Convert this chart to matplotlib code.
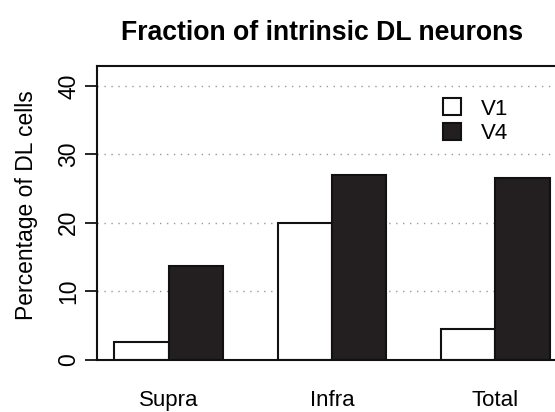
import matplotlib.pyplot as plt

# Percent of DL cells that are intrinsic, per layer group
groups = ["Supra", "Infra", "Total"]
v1_pct = [2.5, 20.0, 4.4]
v4_pct = [13.6, 27.0, 26.6]
series_names = ["V1", "V4"]
yticks = [0, 10, 20, 30, 40]

plt.rcParams["font.family"] = ["Liberation Sans", "DejaVu Sans"]

fig = plt.figure(figsize=(5.55, 4.12), dpi=100)
ax = fig.add_axes([0.1748, 0.1274, 0.8468, 0.7124])

# barplot-style layout: one unit of space before each pair of bars
v1_x = [1.5 + 3 * i for i in range(len(groups))]
v4_x = [2.5 + 3 * i for i in range(len(groups))]
centers = [2.0 + 3 * i for i in range(len(groups))]

for t in yticks[1:]:
    ax.axhline(t, color="#999999", lw=1.0, ls=(0, (1, 4)), zorder=0)

ax.bar(v1_x, v1_pct, width=1.0, color="white", edgecolor="#111111",
       lw=1.5, zorder=2, label=series_names[0])
ax.bar(v4_x, v4_pct, width=1.0, color="#231f20", edgecolor="#111111",
       lw=1.5, zorder=2, label=series_names[1])

ax.set_xlim(0.68, 9.32)
ax.set_ylim(0, 42.9)

ax.set_yticks(yticks)
ax.set_yticklabels([str(t) for t in yticks], rotation=90, va="center")
ax.tick_params(axis="y", length=9, width=1.2, pad=3, labelsize=16.5)
ax.set_xticks(centers)
ax.set_xticklabels(groups)
ax.tick_params(axis="x", length=0, pad=22, labelsize=16)

for s in ax.spines.values():
    s.set_linewidth(1.5)
    s.set_color("#111111")

ax.set_ylabel("Percentage of DL cells", fontsize=16.5)
ax.yaxis.set_label_coords(-0.125, 0.525)
fig.suptitle("Fraction of intrinsic DL neurons", fontsize=19.2,
             fontweight="bold", x=0.58, y=0.952)

ax.legend(loc="upper left", bbox_to_anchor=(0.718, 0.92), frameon=False,
          fontsize=16, handlelength=0.8, handleheight=0.8,
          handletextpad=0.9, labelspacing=0.15, borderaxespad=0)

fig.savefig("out.png", dpi=100)
